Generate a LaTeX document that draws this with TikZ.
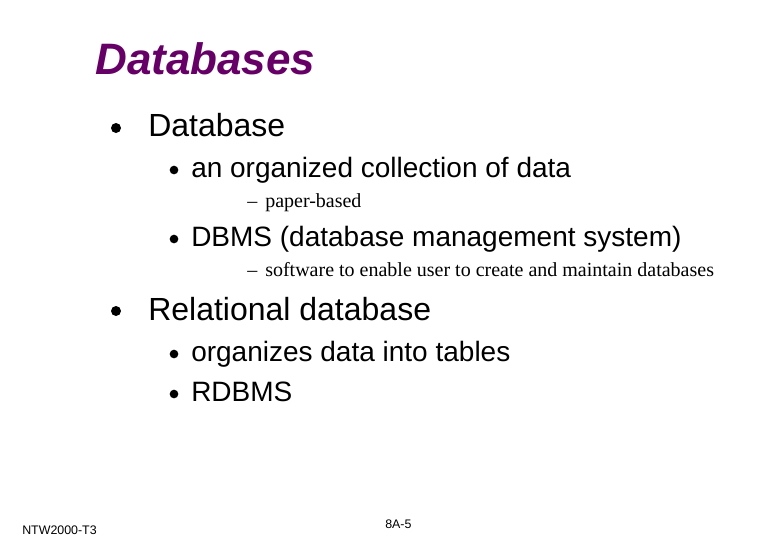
\documentclass[tikz,border=0pt]{standalone}
\usepackage{fontspec}
\setmainfont{Liberation Sans}
\newfontfamily\serifface{Liberation Serif}
\definecolor{titlepurple}{RGB}{102,0,102}
\tikzset{
  lvlone/.style={anchor=base west,inner sep=0pt,font=\fontsize{24}{28}\selectfont},
  lvltwo/.style={anchor=base west,inner sep=0pt,font=\fontsize{21}{25}\selectfont},
  lvlthree/.style={anchor=base west,inner sep=0pt,font=\serifface\fontsize{15}{18}\selectfont},
  dot/.style={circle,fill=black,inner sep=0pt,minimum size=#1}
}
\begin{document}
\begin{tikzpicture}[x=0.75pt,y=0.75pt,yscale=-1,xscale=1]
\useasboundingbox[fill=white] (0,0) rectangle (780,540);

% Title
\node[anchor=base west,inner sep=0pt,text=titlepurple,font=\bfseries\itshape\fontsize{33}{38}\selectfont] (title) at (95,74) {Databases};

% First bullet
\node[dot=7.5pt] (b1) at (116,128) {};
\node[lvlone] (database) at (148,136) {Database};
\node[dot=6.5pt] (b11) at (174,170) {};
\node[lvltwo] (organized) at (191,177) {an organized collection of data};
\node[lvlthree] (paper) at (247,207) {–\hspace{6pt}paper-based};
\node[dot=6.5pt] (b12) at (174,239) {};
\node[lvltwo] (dbms) at (191,246) {DBMS (database management system)};
\node[lvlthree] (software) at (247,276) {–\hspace{6pt}software to enable user to create and maintain databases};

% Second bullet
\node[dot=7.5pt] (b2) at (116,311) {};
\node[lvlone] (relational) at (148,320) {Relational database};
\node[dot=6.5pt] (b21) at (174,354) {};
\node[lvltwo] (tables) at (191,361) {organizes data into tables};
\node[dot=6.5pt] (b22) at (174,394) {};
\node[lvltwo] (rdbms) at (191,401) {RDBMS};

% Footer
\node[anchor=base west,inner sep=0pt,font=\fontsize{9.3}{11}\selectfont] (footl) at (22,534) {NTW2000-T3};
\node[anchor=base west,inner sep=0pt,font=\fontsize{9.3}{11}\selectfont] (footc) at (385,528) {8A-5};
\end{tikzpicture}
\end{document}
